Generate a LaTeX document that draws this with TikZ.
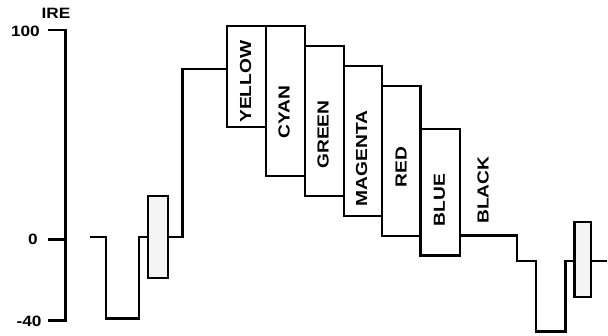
\documentclass[tikz,border=0pt]{standalone}
\usepackage{fontspec}
\setmainfont{Liberation Sans}
\definecolor{burst}{HTML}{F4F4F4}
\begin{document}
\begin{tikzpicture}[x=1pt,y=-1pt,
  axisline/.style={line width=2.8pt},
  wave/.style={line width=2.2pt},
  bar/.style={line width=2.2pt, fill=white},
  burstbox/.style={line width=2.2pt, fill=burst},
  lbl/.style={inner sep=0pt, font=\bfseries\fontsize{16}{16}\selectfont},
  vlbl/.style={lbl, rotate=90},
  axlbl/.style={inner sep=0pt, font=\bfseries\fontsize{15}{15}\selectfont}]
\useasboundingbox (0,0) rectangle (608,335);
% axis
\draw[axisline] (48,30) -- (65.7,30) -- (65.7,320.5) -- (48,320.5);
\draw[axisline] (48,239.3) -- (65.7,239.3);
\node[axlbl] (ire) at (56,13) {\scalebox{1.15}[1]{IRE}};
\node[axlbl, anchor=east] (l100) at (40,31) {\scalebox{1.15}[1]{100}};
\node[axlbl] (l0) at (32.8,239.3) {\scalebox{1.15}[1]{0}};
\node[axlbl, anchor=east] (lm40) at (41.7,321.5) {\scalebox{1.15}[1]{-40}};
% left waveform
\draw[wave] (90,237) -- (105.7,237) -- (105.7,318.5) -- (139.3,318.5) -- (139.3,237) -- (148,237);
\draw[burstbox] (148,196) rectangle (168.3,278);
\draw[wave] (168.3,237) -- (182.5,237) -- (182.5,69) -- (226.7,69);
% colour bars
\draw[bar] (226.7,26) rectangle (265.7,127.3);
\draw[bar] (265.7,26) rectangle (305,176);
\draw[bar] (305,46) rectangle (344,196);
\draw[bar] (344,66) rectangle (382.3,216);
\draw[bar] (382.3,86) rectangle (420.5,236);
\draw[bar] (420.5,129) rectangle (460,255.5);
\node[vlbl] (yellow) at (245.7,81.7) {\scalebox{1.2}[1]{YELLOW}};
\node[vlbl] (cyan) at (284,111.7) {\scalebox{1.2}[1]{CYAN}};
\node[vlbl] (green) at (323,134.5) {\scalebox{1.2}[1]{GREEN}};
\node[vlbl] (magenta) at (361.7,158.3) {\scalebox{1.2}[1]{MAGENTA}};
\node[vlbl] (red) at (401,166.8) {\scalebox{1.2}[1]{RED}};
\node[vlbl] (blue) at (439.5,200) {\scalebox{1.2}[1]{BLUE}};
\node[vlbl] (black) at (483,190) {\scalebox{1.2}[1]{BLACK}};
% right waveform
\draw[wave] (460,235.5) -- (517.3,235.5) -- (517.3,260.7) -- (536,260.7) -- (536,331.5) -- (565.5,331.5) -- (565.5,260.7) -- (574.5,260.7);
\draw[burstbox] (574.5,222.3) rectangle (591,296.7);
\draw[wave] (591,260.7) -- (606.5,260.7);
\end{tikzpicture}
\end{document}
